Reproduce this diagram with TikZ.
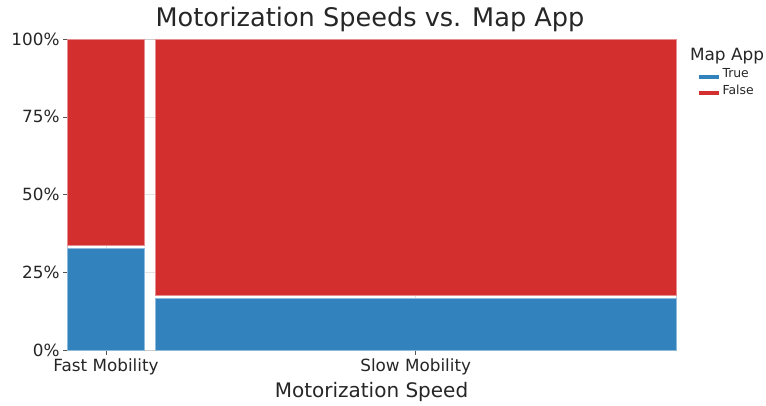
\documentclass[tikz,border=0pt]{standalone}
\usepackage{fontspec}
\setmainfont{DejaVu Sans}
\definecolor{txt}{HTML}{262626}
\definecolor{barblue}{HTML}{3182BD}
\definecolor{barred}{HTML}{D32F2F}
\definecolor{gridc}{HTML}{E3E3E3}
\definecolor{spinec}{HTML}{CCCCCC}
\definecolor{tickc}{HTML}{555555}
\tikzset{
  lbl/.style={text=txt, inner sep=0pt, outer sep=0pt},
  ticklbl/.style={lbl, font=\fontsize{16.8}{18}\selectfont},
  trueblock/.style={fill=barblue, draw=barblue!55!white, line width=0.7pt},
  falseblock/.style={fill=barred, draw=barred!55!white, line width=0.7pt},
  gridline/.style={draw=gridc, line width=0.8pt},
  spine/.style={draw=spinec, line width=0.8pt},
  tickmark/.style={draw=tickc, line width=0.8pt},
}
\begin{document}
\begin{tikzpicture}[x=1pt, y=-1pt]
\useasboundingbox[fill=white] (0,0) rectangle (766,405);

% grid behind the tiles
\foreach \yy in {39,116.9,194.8,272.6,350.5}
  \draw[gridline] (67,\yy) -- (676,\yy);
\foreach \xx in {106,415.7}
  \draw[gridline] (\xx,39) -- (\xx,350.5);
% axes frame
\draw[spine] (67,39) rectangle (676,350.5);

% mosaic tiles
\path[falseblock] (67,39) rectangle (144.5,245.5);
\path[trueblock] (67,248.5) rectangle (144.5,350.5);
\path[falseblock] (155.5,39) rectangle (676,295.5);
\path[trueblock] (155.5,298.5) rectangle (676,350.5);

% y ticks and labels
\foreach \yy/\lab/\nm in {39/100\%/y100,116.9/75\%/y75,194.8/50\%/y50,272.6/25\%/y25,350.5/0\%/y0}{
  \draw[tickmark] (63,\yy) -- (67,\yy);
  \node[ticklbl, anchor=base east] (\nm) at (59.5,\yy+6) {\lab};
}
% x ticks and labels
\draw[tickmark] (106,350.5) -- (106,354.5);
\draw[tickmark] (415.7,350.5) -- (415.7,354.5);
\node[ticklbl, anchor=base] (xfast) at (106,371.5) {Fast Mobility};
\node[ticklbl, anchor=base] (xslow) at (415.7,371.5) {Slow Mobility};

% titles
\node[lbl, anchor=base, font=\fontsize{25.6}{30}\selectfont] (title) at (370,26) {Motorization Speeds vs. Map App};
\node[lbl, anchor=base, font=\fontsize{20}{22}\selectfont] (xlabel) at (371.5,397) {Motorization Speed};

% legend
\node[lbl, anchor=base west, font=\fontsize{16.9}{19}\selectfont] (legtitle) at (690,60) {Map App};
\fill[barblue] (699,74.5) rectangle (719,79);
\fill[barred] (699,90.5) rectangle (719,95);
\node[lbl, anchor=base west, font=\fontsize{12.4}{14}\selectfont] (legtrue) at (722.5,77.3) {True};
\node[lbl, anchor=base west, font=\fontsize{12.4}{14}\selectfont] (legfalse) at (722.5,94) {False};
\end{tikzpicture}
\end{document}
